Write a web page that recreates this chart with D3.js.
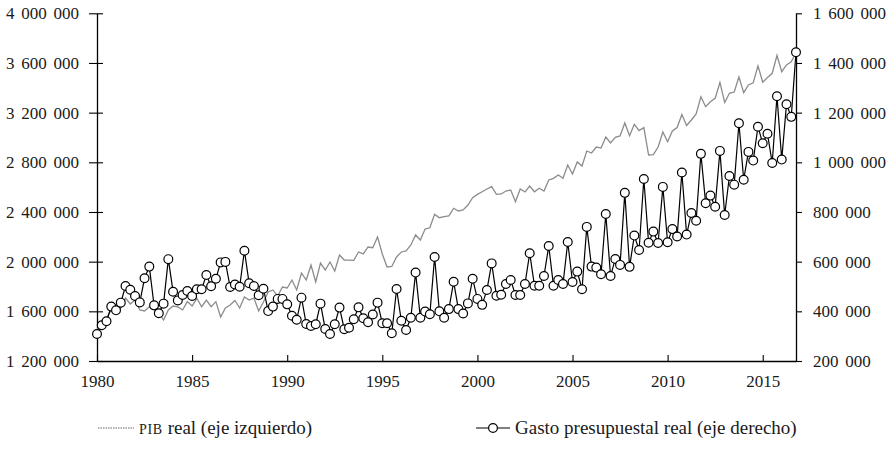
<!DOCTYPE html>
<html>
<head>
<meta charset="utf-8">
<script src="https://cdn.jsdelivr.net/npm/d3@7"></script>
<style>
  body { margin: 0; background: #fff; }
  text { font-family: "Liberation Serif", "DejaVu Serif", serif; font-size: 17px; fill: #1a1a1a; }
  .legend text { font-size: 19px; }
  .legend .sc { font-size: 14px; letter-spacing: 0.7px; }
</style>
</head>
<body>
<svg id="chart" width="892" height="468"></svg>
<script>
// quarterly series, 1980Q1 .. 2016Q4
const START_YEAR = 1980;
const yearTicks = [1980, 1985, 1990, 1995, 2000, 2005, 2010, 2015];
const leftTicks = [1200000, 1600000, 2000000, 2400000, 2800000, 3200000, 3600000, 4000000];
const rightTicks = [200000, 400000, 600000, 800000, 1000000, 1200000, 1400000, 1600000];

// PIB real (left axis)
const pib = [
  1450000, 1506000, 1546000, 1611000, 1595000, 1627000, 1707000, 1659000, 1691000, 1611000,
  1603000, 1637000, 1611000, 1587000, 1530000, 1611000, 1643000, 1635000, 1611000, 1678000,
  1643000, 1705000, 1637000, 1691000, 1637000, 1678000, 1554000, 1627000, 1651000, 1687000,
  1627000, 1715000, 1691000, 1707000, 1603000, 1675000, 1756000, 1772000, 1723000, 1796000,
  1788000, 1852000, 1772000, 1909000, 1852000, 1973000, 1836000, 1989000, 1933000, 1997000,
  1925000, 2054000, 2013000, 2013000, 2011000, 2078000, 2062000, 2118000, 2112000, 2199000,
  2062000, 1957000, 1961000, 2038000, 2078000, 2086000, 2134000, 2215000, 2174000, 2263000,
  2273000, 2381000, 2354000, 2362000, 2368000, 2430000, 2408000, 2416000, 2456000, 2515000,
  2542000, 2563000, 2585000, 2604000, 2542000, 2545000, 2569000, 2577000, 2483000, 2585000,
  2561000, 2609000, 2563000, 2591000, 2569000, 2658000, 2671000, 2698000, 2672000, 2778000,
  2706000, 2803000, 2770000, 2891000, 2875000, 2923000, 2915000, 3004000, 2956000, 3001000,
  3012000, 3117000, 3014000, 3106000, 3055000, 3079000, 2859000, 2862000, 2923000, 3044000,
  2966000, 3052000, 3080000, 3185000, 3097000, 3141000, 3189000, 3328000, 3248000, 3288000,
  3316000, 3443000, 3282000, 3356000, 3366000, 3487000, 3361000, 3423000, 3440000, 3577000,
  3445000, 3483000, 3517000, 3660000, 3530000, 3584000, 3610000, 3684000
];

// Gasto presupuestal real (right axis)
const gasto = [
  309000, 344000, 360000, 419000, 404000, 435000, 502000, 487000, 462000, 436000,
  533000, 580000, 424000, 392000, 431000, 610000, 479000, 444000, 466000, 482000,
  462000, 489000, 489000, 546000, 501000, 531000, 597000, 599000, 498000, 508000,
  499000, 644000, 513000, 502000, 465000, 491000, 401000, 419000, 450000, 450000,
  428000, 382000, 366000, 455000, 349000, 341000, 348000, 431000, 329000, 309000,
  348000, 415000, 328000, 334000, 368000, 416000, 372000, 356000, 387000, 435000,
  352000, 352000, 312000, 490000, 362000, 325000, 374000, 556000, 374000, 399000,
  388000, 619000, 400000, 374000, 409000, 519000, 409000, 391000, 432000, 531000,
  450000, 426000, 486000, 593000, 463000, 467000, 510000, 526000, 466000, 466000,
  510000, 634000, 503000, 503000, 542000, 663000, 503000, 526000, 510000, 679000,
  518000, 560000, 489000, 740000, 580000, 576000, 549000, 792000, 542000, 611000,
  587000, 877000, 579000, 705000, 647000, 933000, 676000, 721000, 675000, 901000,
  678000, 731000, 701000, 959000, 709000, 796000, 765000, 1034000, 835000, 866000,
  821000, 1046000, 788000, 945000, 910000, 1157000, 930000, 1042000, 1007000, 1143000,
  1077000, 1115000, 997000, 1266000, 1011000, 1234000, 1183000, 1443000
];

const svg = d3.select("#chart");
const X0 = 97, X1 = 796, Y0 = 361, Y1 = 13.3;

const x = d3.scaleLinear().domain([START_YEAR, START_YEAR + (pib.length - 1) / 4]).range([X0, X1]);
const yL = d3.scaleLinear().domain([1200000, 4000000]).range([Y0, Y1]);
const yR = d3.scaleLinear().domain([200000, 1600000]).range([Y0, Y1]);

const fmt = v => d3.format(",")(v).replace(/,/g, "\u00a0");

// left axis, ticks cross the line
const gl = svg.append("g").attr("transform", "translate(" + X0 + ",0)")
  .call(d3.axisLeft(yL).tickValues(leftTicks).tickSize(8).tickSizeOuter(0).tickPadding(10).tickFormat(fmt));
gl.selectAll(".tick").append("line").attr("x2", 6).attr("stroke", "#000");

// right axis
const gr = svg.append("g").attr("transform", "translate(" + X1 + ",0)")
  .call(d3.axisRight(yR).tickValues(rightTicks).tickSize(6).tickSizeOuter(0).tickPadding(11).tickFormat(fmt));

// bottom axis, ticks point up
const gx = svg.append("g").attr("transform", "translate(0," + Y0 + ")")
  .call(d3.axisBottom(x).tickValues(yearTicks).tickSizeInner(-6).tickSizeOuter(0).tickPadding(14).tickFormat(d3.format("d")));

[gl, gr, gx].forEach(g => {
  g.attr("font-family", null).attr("font-size", null);
  g.select(".domain").attr("stroke", "#000").attr("stroke-width", 1.3);
  g.selectAll(".tick line").attr("stroke", "#000").attr("stroke-width", 1.1);
  g.selectAll("text").style("word-spacing", "2.5px");
});

// PIB line
const lineL = d3.line().x((d, i) => x(START_YEAR + i / 4)).y(d => yL(d));
svg.append("path").datum(pib)
  .attr("d", lineL).attr("fill", "none").attr("stroke", "#8c8c8c").attr("stroke-width", 1.3);

// gasto line + markers
const lineR = d3.line().x((d, i) => x(START_YEAR + i / 4)).y(d => yR(d));
svg.append("path").datum(gasto)
  .attr("d", lineR).attr("fill", "none").attr("stroke", "#000").attr("stroke-width", 1.2);
svg.append("g").selectAll("circle").data(gasto).join("circle")
  .attr("cx", (d, i) => x(START_YEAR + i / 4)).attr("cy", d => yR(d)).attr("r", 4.4)
  .attr("fill", "#fff").attr("stroke", "#000").attr("stroke-width", 1.2);

// legend
const leg = svg.append("g").attr("class", "legend");
leg.append("line").attr("x1", 98).attr("x2", 134).attr("y1", 428).attr("y2", 428)
  .attr("stroke", "#666").attr("stroke-width", 1).attr("stroke-dasharray", "1.5,1");
const t1 = leg.append("text").attr("x", 139).attr("y", 434);
t1.append("tspan").attr("class", "sc").text("PIB");
t1.append("tspan").text(" real (eje izquierdo)");

leg.append("line").attr("x1", 476).attr("x2", 510).attr("y1", 428).attr("y2", 428)
  .attr("stroke", "#000").attr("stroke-width", 1.2);
leg.append("circle").attr("cx", 493).attr("cy", 428).attr("r", 4.4)
  .attr("fill", "#fff").attr("stroke", "#000").attr("stroke-width", 1.2);
leg.append("text").attr("x", 515).attr("y", 434).text("Gasto presupuestal real (eje derecho)");
</script>
</body>
</html>
